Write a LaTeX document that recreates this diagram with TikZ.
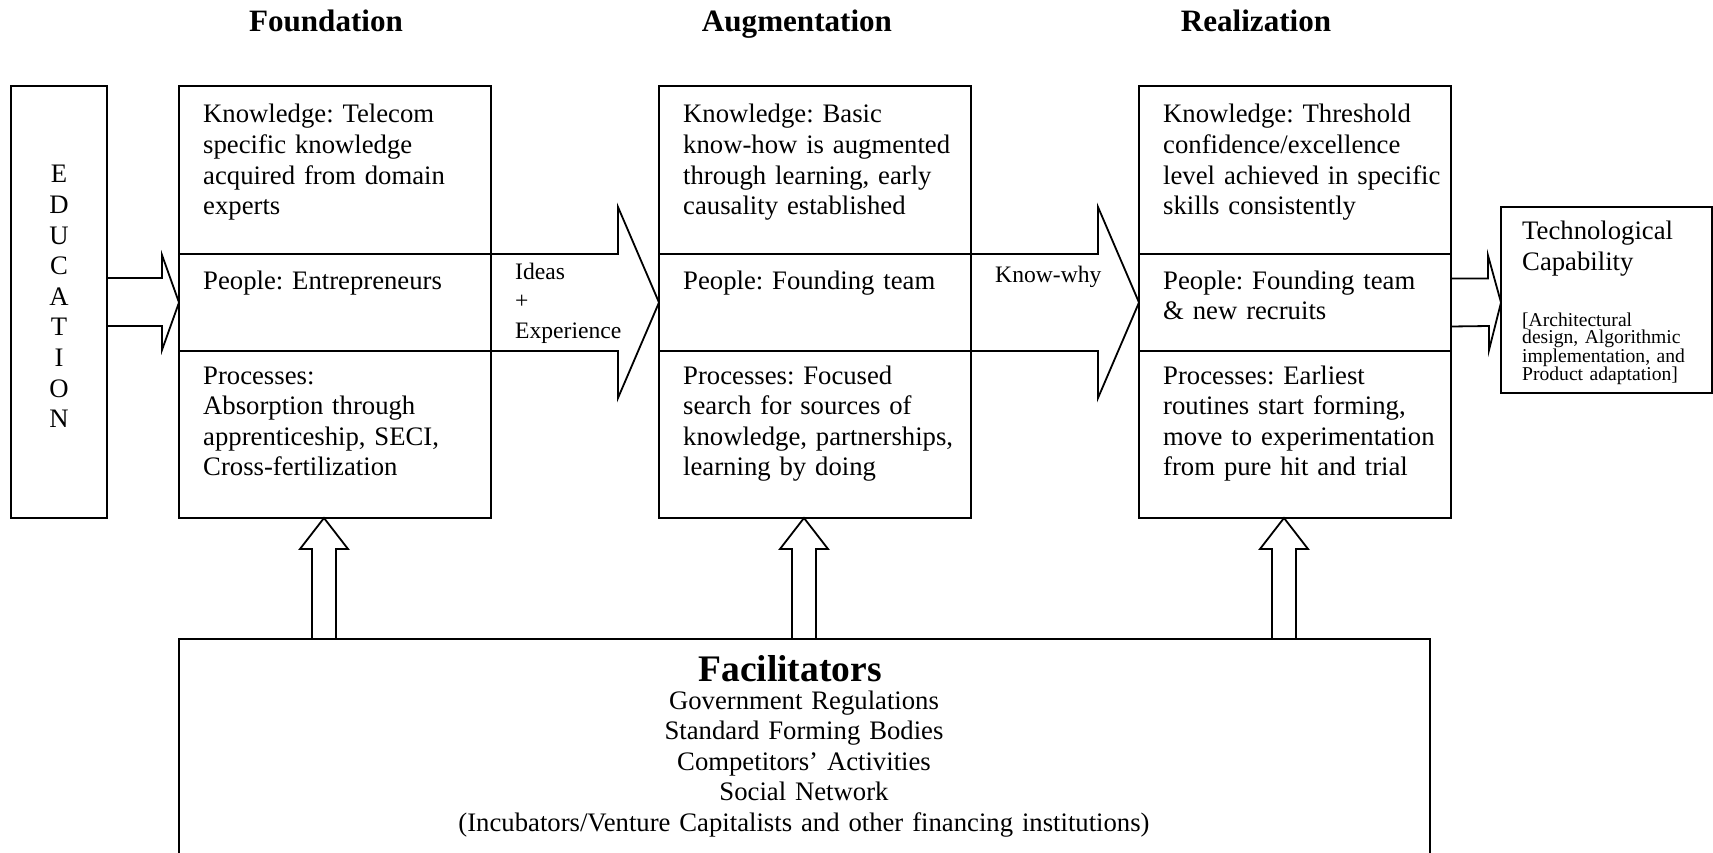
\documentclass[tikz,border=0pt]{standalone}
\usepackage{fontspec}
\setmainfont{Liberation Serif}
\frenchspacing
\usetikzlibrary{positioning,calc}

\begin{document}
\begin{tikzpicture}[x=1pt,y=-1pt,
  box/.style={draw, line width=2.8pt, outer sep=0pt, inner sep=0pt, minimum width=312pt},
  txt/.style={inner sep=0pt, text width=300pt, align=left, font=\fontsize{26.7}{30.6}\selectfont},
  lbl/.style={inner sep=0pt, text width=120pt, align=left, font=\fontsize{23.6}{29.5}\selectfont},
  head/.style={inner sep=0pt, font=\bfseries\fontsize{31.1}{36}\selectfont},
  barrow/.style={draw, line width=1.8pt, line join=miter}]
\clip (0,0) rectangle (1713,853);

% Headings
\node[head, anchor=base] (h-found) at (326,32) {Foundation};
\node[head, anchor=base] (h-augm) at (797,32) {Augmentation};
\node[head, anchor=base] (h-real) at (1256,32) {Realization};

% Education
\node[box, minimum width=96pt, minimum height=432pt, anchor=north west] (edu) at (11,86) {};
\node[txt, text width=40pt, align=center, anchor=base] (edu-t) at ([shift={(0,97)}]edu.north) {E\\D\\U\\C\\A\\T\\I\\O\\N};

% Foundation
\node[box, minimum height=168pt, anchor=north west] (fk) at (179,86) {};
\node[box, minimum height=97pt, below=0pt of fk] (fp) {};
\node[box, minimum height=167pt, below=0pt of fp] (fr) {};
\node[txt, anchor=base west] (fk-t) at ([shift={(24,37)}]fk.north west) {Knowledge: Telecom\\specific knowledge\\acquired from domain\\experts};
\node[txt, anchor=base west] (fp-t) at ([shift={(24,35)}]fp.north west) {People: Entrepreneurs};
\node[txt, anchor=base west] (fr-t) at ([shift={(24,33)}]fr.north west) {Processes:\\Absorption through\\apprenticeship, SECI,\\Cross-fertilization};

% Augmentation
\node[box, minimum height=168pt, right=168pt of fk] (ak) {};
\node[box, minimum height=97pt, below=0pt of ak] (ap) {};
\node[box, minimum height=167pt, below=0pt of ap] (ar) {};
\node[txt, anchor=base west] (ak-t) at ([shift={(24,37)}]ak.north west) {Knowledge: Basic\\know-how is augmented\\through learning, early\\causality established};
\node[txt, anchor=base west] (ap-t) at ([shift={(24,35)}]ap.north west) {People: Founding team};
\node[txt, anchor=base west] (ar-t) at ([shift={(24,33)}]ar.north west) {Processes: Focused\\search for sources of\\knowledge, partnerships,\\learning by doing};

% Realization
\node[box, minimum height=168pt, right=168pt of ak] (rk) {};
\node[box, minimum height=97pt, below=0pt of rk] (rp) {};
\node[box, minimum height=167pt, below=0pt of rp] (rr) {};
\node[txt, anchor=base west] (rk-t) at ([shift={(24,37)}]rk.north west) {Knowledge: Threshold\\confidence/excellence\\level achieved in specific\\skills consistently};
\node[txt, anchor=base west] (rp-t) at ([shift={(24,35)}]rp.north west) {People: Founding team\\\& new recruits};
\node[txt, anchor=base west] (rr-t) at ([shift={(24,33)}]rr.north west) {Processes: Earliest\\routines start forming,\\move to experimentation\\from pure hit and trial};

% Outcome
\node[box, line width=2.2pt, minimum width=211pt, minimum height=186pt, anchor=north west] (tech) at (1501,207) {};
\node[txt, anchor=base west] (tech-t) at ([shift={(21,33)}]tech.north west) {Technological\\Capability};
\node[txt, font=\fontsize{19.6}{17.8}\selectfont, anchor=base west] (tech-s) at ([shift={(21,119)}]tech.north west) {[Architectural\\design, Algorithmic\\implementation, and\\Product adaptation]};

% Facilitators
\node[box, minimum width=1251pt, minimum height=260pt, anchor=north west] (facil) at (179,639) {};
\node[head, font=\bfseries\fontsize{37.5}{40}\selectfont, anchor=base] (facil-h) at (790,681) {Facilitators};
\node[txt, text width=1200pt, align=center, anchor=base] (facil-t) at (804,709) {Government Regulations\\Standard Forming Bodies\\Competitors’ Activities\\Social Network\\(Incubators/Venture Capitalists and other financing institutions)};

% Block arrows
\draw[barrow] ($(edu.east)+(0,-24)$) -- ++(55,0) -- ++(0,-23) -- (fp.west) -- ++(-17,47.5) -- ++(0,-24) -- ($(edu.east)+(0,24)$);
\draw[barrow] (fp.north east) -- ++(127,0) -- ++(0,-47) -- (ap.west) -- ++(-41,95.5) -- ++(0,-47) -- (fp.south east);
\draw[barrow] (ap.north east) -- ++(127,0) -- ++(0,-47) -- (rp.west) -- ++(-41,95.5) -- ++(0,-47) -- (ap.south east);
\draw[barrow] ($(rp.east)+(0,-24)$) -- ++(37,0) -- ++(0,-23) -- (tech.west |- rp.east) -- ++(-12,47.5) -- ++(0,-24) -- ($(rp.east)+(0,24)$);

\node[lbl, anchor=base west] (l-ideas) at (515,279) {Ideas\\+\\Experience};
\node[lbl, anchor=base west] (l-why) at (995,282) {Know-why};

% Up arrows
\draw[barrow] ($(fr.south)+(-23,121)$) -- ++(0,-90) -- ++(-12,0) -- ++(24,-31) -- ++(24,31) -- ++(-12,0) -- ++(0,90);
\draw[barrow] ($(ar.south)+(-23,121)$) -- ++(0,-90) -- ++(-12,0) -- ++(24,-31) -- ++(24,31) -- ++(-12,0) -- ++(0,90);
\draw[barrow] ($(rr.south)+(-23,121)$) -- ++(0,-90) -- ++(-12,0) -- ++(24,-31) -- ++(24,31) -- ++(-12,0) -- ++(0,90);

\end{tikzpicture}
\end{document}
